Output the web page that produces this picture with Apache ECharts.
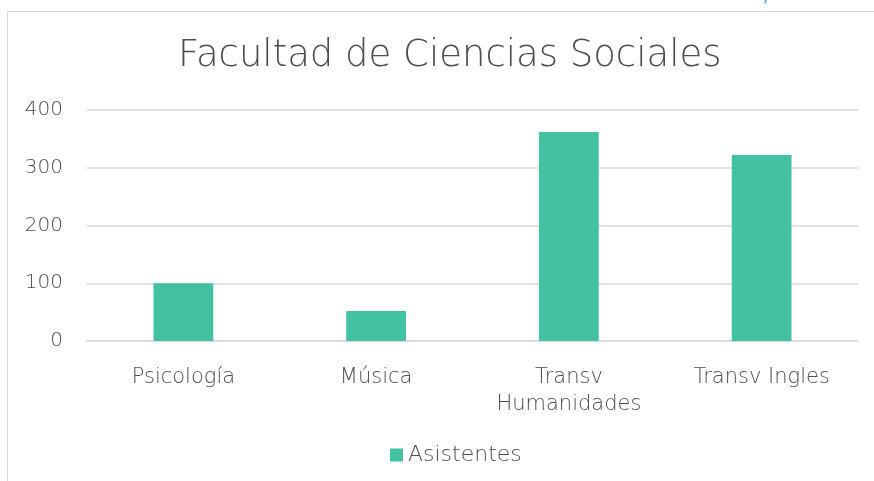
<!doctype html>
<html>
<head>
<meta charset="utf-8">
<script src="https://cdn.jsdelivr.net/npm/echarts@6/dist/echarts.min.js"></script>
<style>
    html, body {margin: 0; padding: 0; background: #fff;}
    #chart {width: 874px; height: 481px;}
</style>
</head>
<body>
<div id="chart"></div>
<script>
    var categories = ['Psicología', 'Música', 'Transv\nHumanidades', 'Transv Ingles'];
    var asistentes = [100, 52, 362, 322];
    var yTicks = [0, 100, 200, 300, 400];

    var font = '"DejaVu Sans", sans-serif';
    var fw = 200;
    var txt = '#4d4d4d';
    var myChart = echarts.init(document.getElementById('chart'));
    var option = {
        animation: false,
        textStyle: {fontFamily: font},
        graphic: [
            {
                type: 'rect',
                shape: {x: 7.5, y: 11.5, width: 900, height: 500},
                style: {fill: 'none', stroke: '#d9d9d9', lineWidth: 1}
            },
            {
                type: 'line',
                shape: {x1: 766, y1: 0, x2: 765, y2: 3},
                style: {stroke: '#29a8e0', lineWidth: 1.5}
            }
        ],
        title: {
            text: 'Facultad de Ciencias Sociales',
            left: 173,
            top: 33,
            textStyle: {fontFamily: font, fontSize: 37, fontWeight: fw, color: txt}
        },
        legend: {
            bottom: 10,
            left: 385,
            itemWidth: 13,
            itemHeight: 13,
            icon: 'rect',
            itemGap: 6,
            textStyle: {fontFamily: font, fontSize: 22, fontWeight: fw, color: txt},
            data: ['Asistentes']
        },
        grid: {left: 87, right: 16, top: 110, bottom: 140, containLabel: false},
        xAxis: {
            type: 'category',
            data: categories,
            axisLine: {lineStyle: {color: '#d9d9d9', width: 1.5}},
            axisTick: {show: false},
            axisLabel: {fontFamily: font, fontSize: 21, fontWeight: fw, color: txt, margin: 23, lineHeight: 27, interval: 0}
        },
        yAxis: {
            type: 'value',
            min: yTicks[0],
            max: yTicks[yTicks.length - 1],
            interval: 100,
            axisLine: {show: false},
            axisTick: {show: false},
            splitLine: {lineStyle: {color: '#d9d9d9', width: 1.5}},
            axisLabel: {fontFamily: font, fontSize: 20, fontWeight: fw, color: txt, margin: 24}
        },
        series: [
            {
                name: 'Asistentes',
                type: 'bar',
                barWidth: '31%',
                itemStyle: {color: '#43c2a2'},
                data: asistentes
            }
        ]
    };
    myChart.setOption(option, true);
</script>
</body>
</html>
